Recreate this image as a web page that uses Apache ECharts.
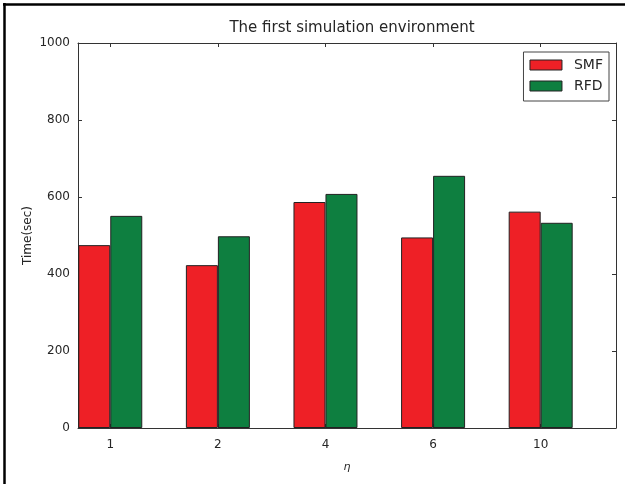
<!DOCTYPE html>
<html>
<head>
<meta charset="utf-8">
<script src="https://cdn.jsdelivr.net/npm/echarts@6/dist/echarts.min.js"></script>
<style>
html,body{margin:0;padding:0;background:#fff;}
#c{width:625px;height:484px;}
</style>
</head>
<body>
<div id="c"></div>
<script>
var categories = ['1', '2', '4', '6', '10'];
var smf = [475, 423, 587, 495, 562];
var rfd = [551, 498, 608, 655, 533];
var yTicks = [0, 200, 400, 600, 800, 1000];

var tickPos = categories.map(function (c, i) { return i + 0.3; });
var smfData = smf.map(function (v, i) { return [tickPos[i], v]; });
var rfdData = rfd.map(function (v, i) { return [tickPos[i], v]; });

var font = 'DejaVu Sans';
var txt = '#262626';
var axisCol = '#333';

var chart = echarts.init(document.getElementById('c'), null, {renderer: 'canvas'});
chart.setOption({
  animation: false,
  backgroundColor: '#fff',
  textStyle: {fontFamily: font},
  title: {
    text: 'The first simulation environment',
    left: 347, top: 16, textAlign: 'center',
    textStyle: {fontFamily: font, fontSize: 15, fontWeight: 'normal', color: txt}
  },
  graphic: [
    {type: 'line', shape: {x1: 3, y1: 4.5, x2: 625, y2: 4.5}, style: {stroke: '#000', lineWidth: 2.5}, silent: true},
    {type: 'line', shape: {x1: 4.5, y1: 3, x2: 4.5, y2: 484}, style: {stroke: '#000', lineWidth: 2.5}, silent: true}
  ],
  legend: {
    orient: 'vertical',
    right: 16, top: 52,
    padding: [6, 6, 8, 6],
    itemWidth: 32, itemHeight: 10, itemGap: 7,
    icon: 'rect',
    borderColor: '#444', borderWidth: 1,
    itemStyle: {borderColor: '#222', borderWidth: 1},
    textStyle: {fontFamily: font, fontSize: 14, color: txt, padding: [0, 0, 0, 7]},
    data: ['SMF', 'RFD']
  },
  grid: {left: 78, top: 43, width: 538, height: 385, containLabel: false},
  xAxis: [{
    type: 'value', min: 0, max: 5, position: 'bottom',
    name: 'η', nameLocation: 'middle', nameGap: 34, nameMoveOverlap: false,
    nameTextStyle: {fontFamily: font, fontSize: 11, fontStyle: 'italic', color: txt},
    axisLine: {show: true, lineStyle: {color: axisCol, width: 1}},
    axisTick: {show: true, inside: true, length: 4, customValues: tickPos, lineStyle: {color: axisCol}},
    axisLabel: {show: true, customValues: tickPos, margin: 11, fontFamily: font, fontSize: 12, color: txt,
      formatter: function (v) { return categories[Math.round(v - 0.3)]; }},
    splitLine: {show: false}
  }, {
    type: 'value', min: 0, max: 5, position: 'top',
    axisLine: {show: true, onZero: false, lineStyle: {color: axisCol, width: 1}},
    axisTick: {show: true, inside: true, length: 4, customValues: tickPos, lineStyle: {color: axisCol}},
    axisLabel: {show: false},
    splitLine: {show: false}
  }],
  yAxis: [{
    type: 'value', min: 0, max: 1000, interval: 200, position: 'left',
    name: 'Time(sec)', nameLocation: 'middle', nameGap: 44, nameMoveOverlap: false,
    nameTextStyle: {fontFamily: font, fontSize: 12, color: txt},
    axisLine: {show: true, onZero: false, lineStyle: {color: axisCol, width: 1}},
    axisTick: {show: true, inside: true, length: 4, lineStyle: {color: axisCol}},
    axisLabel: {margin: 8, fontFamily: font, fontSize: 12, color: txt,
      customValues: yTicks, formatter: function (v) { return String(v); }},
    splitLine: {show: false}
  }, {
    type: 'value', min: 0, max: 1000, interval: 200, position: 'right',
    axisLine: {show: true, onZero: false, lineStyle: {color: axisCol, width: 1}},
    axisTick: {show: true, inside: true, length: 4, lineStyle: {color: axisCol}},
    axisLabel: {show: false},
    splitLine: {show: false}
  }],
  series: [{
    name: 'SMF', type: 'bar', xAxisIndex: 0, yAxisIndex: 0,
    data: smfData, barWidth: 32, barGap: '0%',
    itemStyle: {color: '#EE2026', borderColor: '#222', borderWidth: 1}
  }, {
    name: 'RFD', type: 'bar', xAxisIndex: 0, yAxisIndex: 0,
    data: rfdData, barWidth: 32, barGap: '0%',
    itemStyle: {color: '#0E7F40', borderColor: '#222', borderWidth: 1}
  }]
});
</script>
</body>
</html>
